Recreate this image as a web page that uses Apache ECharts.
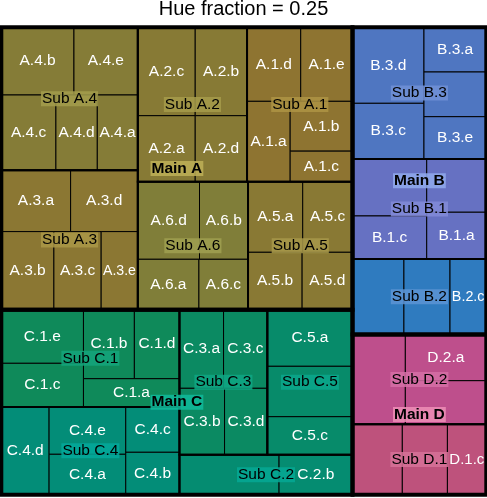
<!DOCTYPE html>
<html><head><meta charset="utf-8">
<script src="https://cdn.jsdelivr.net/npm/echarts@6/dist/echarts.min.js"></script>
<style>html,body{margin:0;padding:0;background:#fff}#c{width:487px;height:498px}</style>
</head><body><div id="c"></div>
<script>
// ---------------- data ----------------
const chartTitle = 'Hue fraction = 0.25';
const mainNames = ['A', 'B', 'C', 'D'];
const subsA = ['A.1', 'A.2', 'A.3', 'A.4', 'A.5', 'A.6'];
const subsB = ['B.1', 'B.2', 'B.3'];
const subsC = ['C.1', 'C.2', 'C.3', 'C.4', 'C.5'];
const subsD = ['D.1', 'D.2'];
const leafLetters = ['a', 'b', 'c', 'd', 'e'];
// leaf values, in leaf-letter order (a, b, c, ...)
const vA1 = [3460, 3100, 1900, 3972, 3831];
const vA2 = [3782, 4575, 5071, 3412];
const vA3 = [4240, 4100, 3685, 4110, 2854];
const vA4 = [3042, 4916, 4104, 3110, 4319];
const vA5 = [3855, 3100, 3509, 2887];
const vA6 = [3074, 3756, 2470, 4780];
const vB1 = [2773, 4218, 3180, 3165];
const vB2 = [3878, 3478, 2737];
const vB3 = [2787, 2780, 3971, 5426, 2631];
const vC1 = [2711, 3505, 3583, 3105, 4395];
const vC2 = [3976, 2932];
const vC3 = [3458, 2988, 3435, 2835];
const vC4 = [3091, 2273, 2428, 4183, 3618];
const vC5 = [4811, 4284, 3230];
const vD1 = [3499, 3168, 2732];
const vD2 = [3733, 4732, 3523];
// leaf labels not printed (covered by higher-level labels)
const hiddenLeafLabels = ['B.1.b', 'B.1.d', 'B.2.a', 'B.2.b', 'B.3.b', 'C.2.a', 'C.5.b', 'D.1.a', 'D.1.b', 'D.2.b', 'D.2.c'];

// ---------------- styles ----------------
const leafColor = {
  'A.1': '#8E7431', 'A.2': '#877A35', 'A.3': '#8B7733', 'A.4': '#857C37', 'A.5': '#897934', 'A.6': '#807E39',
  'B.1': '#6671C2', 'B.2': '#2F7BBF', 'B.3': '#4F76C1',
  'C.1': '#0F8A5A', 'C.2': '#058C71', 'C.3': '#0B8A62', 'C.4': '#038D78', 'C.5': '#078B6A',
  'D.1': '#BE527C', 'D.2': '#BE4F8C'
};
const subLabelBg = {
  'A.1': '#AD9444', 'A.2': '#A59B4B', 'A.3': '#AA9747', 'A.4': '#A39D4D', 'A.5': '#A8994A', 'A.6': '#A09F50',
  'B.1': '#828BD7', 'B.2': '#5C94D4', 'B.3': '#7190D6',
  'C.1': '#14A57C', 'C.2': '#06A894', 'C.3': '#0FA684', 'C.4': '#03A99B', 'C.5': '#0AA78C',
  'D.1': '#D67298', 'D.2': '#D56FA5'
};
const mainLabelBg = { A: '#BEB057', B: '#90AAEC', C: '#10BA9B', D: '#ED8EB6' };
const FONT = '"Liberation Sans", Arial, Helvetica, sans-serif';
const FS = 15.5;
const W = 485, H = 467.5;

function rgba(hex, a) {
  const n = parseInt(hex.slice(1), 16);
  return `rgba(${(n >> 16) & 255},${(n >> 8) & 255},${n & 255},${a})`;
}

// ---------------- build hierarchy ----------------
const subsByMain = { A: subsA, B: subsB, C: subsC, D: subsD };
const leafValues = {
  'A.1': vA1, 'A.2': vA2, 'A.3': vA3, 'A.4': vA4, 'A.5': vA5, 'A.6': vA6,
  'B.1': vB1, 'B.2': vB2, 'B.3': vB3,
  'C.1': vC1, 'C.2': vC2, 'C.3': vC3, 'C.4': vC4, 'C.5': vC5,
  'D.1': vD1, 'D.2': vD2
};
const total = arr => arr.reduce((s, x) => s + x.value, 0);
const mainItems = mainNames.map(m => {
  const subs = subsByMain[m].map(s => {
    const leaves = leafValues[s].map((v, i) => ({ name: s + '.' + leafLetters[i], value: v, sub: s, main: m }));
    return { name: s, value: total(leaves), leaves, main: m };
  });
  return { name: m, value: total(subs), subs };
});

// pivot-by-size layout (ordered treemap)
function sortDesc(items) { return items.slice().sort((a, b) => b.value - a.value); }
function pivot(items, x, y, w, h, out) {
  const n = items.length;
  if (!n) return;
  if (n === 1) { out.push({ node: items[0], x0: x, y0: y, x1: x + w, y1: y + h }); return; }
  const T = total(items);
  const P = items[0];
  const rest = items.slice(1);
  const wide = w >= h;
  let best = Infinity, bestK = 0;
  for (let k = 0; k <= rest.length; k++) {
    const s2 = total(rest.slice(0, k));
    const frac = (P.value + s2) / T;
    let rw, rh;
    if (wide) { rw = w * frac; rh = h * P.value / (P.value + s2); }
    else { rh = h * frac; rw = w * P.value / (P.value + s2); }
    const ar = Math.max(rw / rh, rh / rw);
    if (ar < best) { best = ar; bestK = k; }
  }
  const L2 = rest.slice(0, bestK), L3 = rest.slice(bestK);
  const s2 = total(L2);
  const frac = (P.value + s2) / T;
  if (wide) {
    const cw = w * frac, ph = h * P.value / (P.value + s2);
    out.push({ node: P, x0: x, y0: y, x1: x + cw, y1: y + ph });
    pivot(L2, x, y + ph, cw, h - ph, out);
    pivot(L3, x + cw, y, w - cw, h, out);
  } else {
    const rh = h * frac, pw = w * P.value / (P.value + s2);
    out.push({ node: P, x0: x, y0: y, x1: x + pw, y1: y + rh });
    pivot(L2, x + pw, y, w - pw, rh, out);
    pivot(L3, x, y + rh, w, h - rh, out);
  }
}
const mainRects = [], subRects = [], leafRects = [];
pivot(sortDesc(mainItems), 0, 0, W, H, mainRects);
mainRects.forEach(r => {
  const sr = [];
  pivot(sortDesc(r.node.subs), r.x0, r.y0, r.x1 - r.x0, r.y1 - r.y0, sr);
  sr.forEach(s => {
    subRects.push(s);
    pivot(sortDesc(s.node.leaves), s.x0, s.y0, s.x1 - s.x0, s.y1 - s.y0, leafRects);
  });
});

// text measure
const mctx = document.createElement('canvas').getContext('2d');
function textW(t, fs, bold) { mctx.font = (bold ? 'bold ' : '') + fs + 'px ' + FONT; return mctx.measureText(t).width; }

function rectSeries(rects, z, styleFn) {
  return {
    type: 'custom', coordinateSystem: 'cartesian2d', clip: false, silent: true, z,
    animation: false,
    data: rects.map(r => [r.x0, r.y0, r.x1, r.y1]),
    encode: { x: [0, 2], y: [1, 3] },
    renderItem: (params, api) => {
      const p0 = api.coord([api.value(0), api.value(1)]);
      const p1 = api.coord([api.value(2), api.value(3)]);
      return { type: 'rect', shape: { x: p0[0], y: p0[1], width: p1[0] - p0[0], height: p1[1] - p0[1] },
        style: styleFn(rects[params.dataIndex]) };
    }
  };
}
function labelSeries(rects, z, textFn) {
  return {
    type: 'custom', coordinateSystem: 'cartesian2d', clip: false, silent: true, z,
    animation: false,
    data: rects.map(r => [r.x0, r.y0, r.x1, r.y1]),
    encode: { x: [0, 2], y: [1, 3] },
    renderItem: (params, api) => {
      const p0 = api.coord([api.value(0), api.value(1)]);
      const p1 = api.coord([api.value(2), api.value(3)]);
      const r = rects[params.dataIndex];
      const st = textFn(r, p1[0] - p0[0], p1[1] - p0[1]);
      if (!st) return null;
      return { type: 'text', x: (p0[0] + p1[0]) / 2, y: (p0[1] + p1[1]) / 2,
        style: Object.assign({ align: 'center', verticalAlign: 'middle', fontFamily: FONT }, st) };
    }
  };
}

const chart = echarts.init(document.getElementById('c'), null, { renderer: 'canvas' });
chart.setOption({
  animation: false,
  backgroundColor: '#ffffff',
  title: { text: chartTitle, left: 'center', top: -1, padding: 0,
    textStyle: { fontSize: 20, fontWeight: 'normal', color: '#000', fontFamily: FONT, lineHeight: 20 } },
  grid: { left: 1.3, top: 27.2, width: W, height: H },
  xAxis: { type: 'value', min: 0, max: W, show: false },
  yAxis: { type: 'value', min: 0, max: H, inverse: true, show: false },
  series: [
    rectSeries(leafRects, 1, r => ({ fill: leafColor[r.node.sub], stroke: '#000', lineWidth: 1 })),
    rectSeries(subRects, 2, r => ({ fill: 'none', stroke: '#000', lineWidth: 2 })),
    rectSeries(mainRects, 3, r => ({ fill: 'none', stroke: '#000', lineWidth: 4 })),
    labelSeries(leafRects, 4, (r, w, h) => {
      if (hiddenLeafLabels.includes(r.node.name)) return null;
      const tw = textW(r.node.name, FS, false);
      const fs = Math.min(FS, FS * 0.9 * w / tw);
      return { text: r.node.name, fill: '#ffffff', fontSize: fs };
    }),
    labelSeries(subRects, 5, r => ({ text: 'Sub ' + r.node.name, fill: '#000', fontSize: FS,
      backgroundColor: rgba(subLabelBg[r.node.name], 0.86), padding: [0, 1], lineHeight: 15 })),
    labelSeries(mainRects, 6, r => ({ text: 'Main ' + r.node.name, fill: '#000', fontSize: FS, fontWeight: 'bold',
      backgroundColor: rgba(mainLabelBg[r.node.name], 0.86), padding: [0, 1], lineHeight: 15 }))
  ]
});
</script>
</body></html>
